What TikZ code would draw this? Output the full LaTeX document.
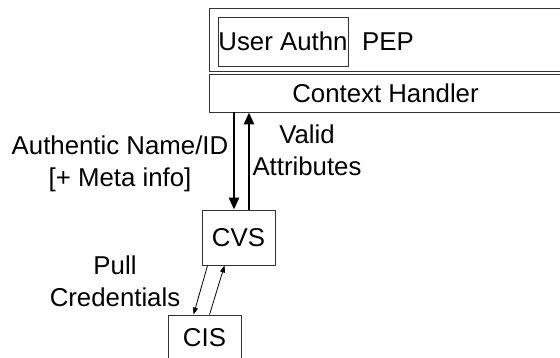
\documentclass[tikz,border=0pt]{standalone}
\usepackage{fontspec}
\setmainfont{Liberation Sans}
\usetikzlibrary{arrows.meta,calc}
\begin{document}
\begin{tikzpicture}[x=1pt,y=-1pt,
  font=\fontsize{25.8}{32}\selectfont,
  box/.style={draw=black!80,line width=0.9pt,inner sep=0pt},
  txt/.style={inner sep=0pt,align=center},
  thickarrow/.style={line width=2.6pt,-{Triangle[length=12pt,width=10pt]}},
  thinarrow/.style={line width=0.8pt,-{Triangle[length=7pt,width=5pt]}}]
\useasboundingbox (0,0) rectangle (560,358);
\clip (0,0) rectangle (560,358);
% PEP box
\node[box,minimum width=353pt,minimum height=63pt] (pep) at (385.5,39.5) {};
\node[box,minimum width=353pt,minimum height=38pt] (ch) at (385.5,93) {Context Handler};
\node[box,minimum width=130pt,minimum height=49pt] (ua) at (283,41.5) {User Authn};
\node[txt] (peplabel) at (388,41.5) {PEP};
% CVS and CIS
\node[box,minimum width=73pt,minimum height=55pt] (cvs) at (238.5,237.5) {CVS};
\node[box,minimum width=73pt,minimum height=46pt] (cis) at (204.5,338) {CIS};
% thick arrows
\coordinate (d1) at (234,0);
\coordinate (u1) at (249,0);
\draw[thickarrow] (d1 |- ch.south) -- (d1 |- cvs.north);
\draw[thickarrow] (u1 |- cvs.north) -- (u1 |- ch.south);
% thin arrows
\draw[thinarrow] ($(cvs.south west)+(6,0)$) -- ($(cis.north west)+(26,0)$);
\draw[thinarrow] ($(cis.north west)+(42,0)$) -- ($(cvs.south west)+(23,0)$);
% labels
\node[txt] (l1) at (120,164) {Authentic Name/ID\\{}[+ Meta info]};
\node[txt] (l2) at (307,150) {Valid\\Attributes};
\node[txt] (l3) at (115,281) {Pull\\Credentials};
\end{tikzpicture}
\end{document}
